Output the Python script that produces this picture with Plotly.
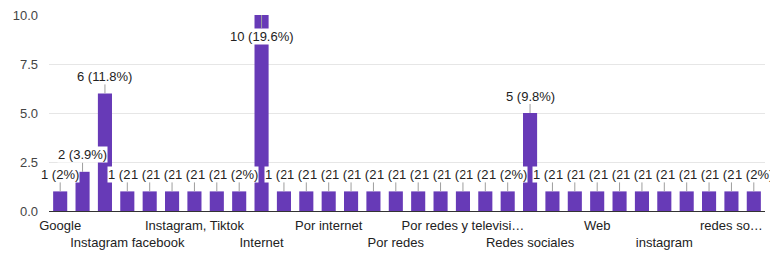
import plotly.graph_objects as go

categories = [
    "Google", "Google y redes", "Instagram", "Instagram facebook", "Instagram y Facebook",
    "Instagram y páginas web", "Instagram, Tiktok", "Instagram, facebook", "Instagram, redes",
    "Internet", "Internet y redes", "Páginas web", "Por internet", "Por medio de internet",
    "Por páginas", "Por redes", "Por redes de internet", "Por redes sociales",
    "Por redes y televisión", "Por televisión", "Publicidad", "Redes sociales",
    "Redes sociales e internet", "TikTok", "Web", "facebook", "google", "instagram",
    "internet", "redes", "redes sociales", "tiktok",
]
values = [1, 2, 6, 1, 1, 1, 1, 1, 1, 10, 1, 1, 1, 1, 1, 1, 1, 1, 1, 1, 1, 5,
          1, 1, 1, 1, 1, 1, 1, 1, 1, 1]
tick_categories = categories[0::3]
tick_labels = ["Google", "Instagram facebook", "Instagram, Tiktok", "Internet", "Por internet",
               "Por redes", "Por redes y televisi…", "Redes sociales", "Web", "instagram",
               "redes so…"]
y_ticks = [0, 2.5, 5, 7.5, 10]

total = sum(values)
FONT = "Liberation Sans, Arial, sans-serif"

fig = go.Figure()
fig.add_trace(go.Bar(x=categories, y=values, marker=dict(color="#673ab7", line=dict(width=0)),
                     hoverinfo="x+y"))

def pct(v):
    p = round(v / total * 100, 1)
    s = f"{p:.1f}"
    if s.endswith(".0"):
        s = s[:-2]
    return s

vmax = max(values)
for c, v in zip(categories, values):
    fig.add_annotation(
        x=c, y=v, xref="x", yref="y", text=f"{v} ({pct(v)}%)",
        showarrow=True, arrowhead=0, arrowwidth=1, arrowcolor="#9e9e9e",
        ax=0, ay=(21 if v == vmax else -17), standoff=0,
        bgcolor="white", borderpad=0,
        font=dict(family=FONT, size=13, color="#222222"),
    )

ticktext = [("" if i % 2 == 0 else "<br>") + t for i, t in enumerate(tick_labels)]

fig.update_layout(
    width=770, height=257,
    margin=dict(l=49, r=5, t=15, b=46),
    paper_bgcolor="white", plot_bgcolor="white",
    showlegend=False, bargap=0.37,
    font=dict(family=FONT, size=13, color="#222222"),
    xaxis=dict(type="category", categoryorder="array", categoryarray=categories,
               range=[-0.5, len(categories) - 0.5],
               tickmode="array", tickvals=tick_categories, ticktext=ticktext,
               showgrid=False, showline=False, ticks="", tickangle=0,
               ticklabelstandoff=5, automargin=False,
               tickfont=dict(family=FONT, size=13, color="#222222")),
    yaxis=dict(range=[0, 10], tickmode="array", tickvals=y_ticks,
               ticktext=[f"{t:.1f}" for t in y_ticks],
               showgrid=True, gridcolor="#e6e6e6", gridwidth=1,
               zeroline=True, zerolinecolor="#333333", zerolinewidth=1,
               ticklabelstandoff=10, automargin=False,
               tickfont=dict(family=FONT, size=13, color="#444444"), ticks=""),
)

fig.write_html("out.html", config={"displayModeBar": False},
               post_script="document.body.style.margin='0';document.body.style.overflow='hidden';")
